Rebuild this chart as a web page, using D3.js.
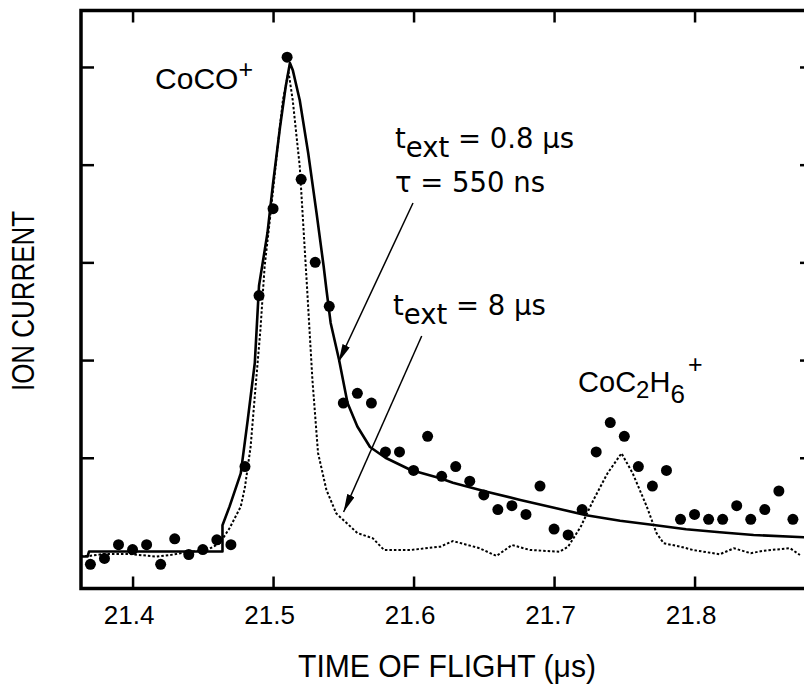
<!DOCTYPE html>
<html>
<head>
<meta charset="utf-8">
<script src="https://cdn.jsdelivr.net/npm/d3@7"></script>
<style>
    body { margin: 0; background: #fff; }
    svg { display: block; }
    .tick text { font-family: 'Liberation Sans', Arial, sans-serif; font-size: 26px; fill: #000; }
    .tick line { stroke: #000; stroke-width: 2.5; }
</style>
</head>
<body>
<div id="chart"></div>
<script>
// measured points, time of flight (us) vs ion current (arb. units)
var pointTimes = [21.37, 21.38, 21.39, 21.40, 21.41, 21.42, 21.43, 21.44, 21.45, 21.46,
    21.47, 21.48, 21.49, 21.50, 21.51, 21.52, 21.53, 21.54, 21.55, 21.56,
    21.57, 21.58, 21.59, 21.60, 21.61, 21.62, 21.63, 21.64, 21.65, 21.66,
    21.67, 21.68, 21.69, 21.70, 21.71, 21.72, 21.73, 21.74, 21.75, 21.76,
    21.77, 21.78, 21.79, 21.80, 21.81, 21.82, 21.83, 21.84, 21.85, 21.86, 21.87];
var pointCurrent = [-0.09, -0.03, 0.11, 0.06, 0.11, -0.09, 0.17, 0.01, 0.06, 0.16,
    0.11, 0.91, 2.66, 3.55, 5.10, 3.85, 3.00, 2.55, 1.56, 1.66,
    1.56, 1.06, 1.06, 0.87, 1.22, 0.81, 0.91, 0.76, 0.62, 0.47,
    0.51, 0.42, 0.71, 0.27, 0.21, 0.47, 1.06, 1.36, 1.22, 0.91,
    0.71, 0.87, 0.37, 0.42, 0.37, 0.37, 0.51, 0.37, 0.47, 0.66, 0.37];

// t_ext = 0.8 us, tau = 550 ns model
var fitCurve = [[21.363, -0.01], [21.368, -0.01], [21.369, 0.04], [21.464, 0.04], [21.464, 0.31],
    [21.469, 0.50], [21.477, 0.84], [21.482, 1.39], [21.487, 1.97], [21.490, 2.76],
    [21.496, 3.30], [21.500, 3.81], [21.505, 4.39], [21.509, 4.80], [21.512, 5.04],
    [21.514, 4.97], [21.519, 4.66], [21.525, 4.12], [21.531, 3.50], [21.536, 2.96],
    [21.538, 2.72], [21.541, 2.38], [21.547, 2.00], [21.553, 1.56], [21.560, 1.32],
    [21.569, 1.11], [21.580, 1.00], [21.598, 0.875], [21.619, 0.79], [21.628, 0.745],
    [21.652, 0.653], [21.676, 0.568], [21.700, 0.489], [21.723, 0.411], [21.747, 0.356],
    [21.771, 0.312], [21.794, 0.268], [21.818, 0.237], [21.842, 0.210], [21.878, 0.186]];

// t_ext = 8 us trace
var longCurve = [[21.363, -0.005], [21.369, -0.005], [21.379, 0.015], [21.398, 0.015], [21.417, -0.012],
    [21.427, 0.005], [21.441, 0.039], [21.453, 0.056], [21.462, 0.125], [21.469, 0.278],
    [21.477, 0.50], [21.480, 0.70], [21.484, 1.11], [21.487, 1.63], [21.491, 2.31],
    [21.494, 2.96], [21.498, 3.47], [21.503, 4.15], [21.507, 4.66], [21.511, 4.95],
    [21.514, 4.66], [21.519, 3.98], [21.524, 2.79], [21.528, 1.80], [21.532, 1.05],
    [21.538, 0.67], [21.545, 0.43], [21.560, 0.23], [21.571, 0.176], [21.579, 0.056],
    [21.598, 0.056], [21.619, 0.09], [21.628, 0.148], [21.647, 0.074], [21.659, -0.005],
    [21.670, 0.107], [21.683, 0.056], [21.704, 0.039], [21.710, 0.09], [21.719, 0.295],
    [21.728, 0.568], [21.738, 0.84], [21.748, 1.046], [21.756, 0.84], [21.766, 0.50],
    [21.773, 0.227], [21.778, 0.125], [21.790, 0.09], [21.799, 0.056], [21.818, 0.012],
    [21.828, 0.074], [21.840, 0.023], [21.849, 0.049], [21.868, 0.074], [21.875, 0.005]];

var xTicks = [21.4, 21.5, 21.6, 21.7, 21.8];
var yTicks = [1, 2, 3, 4, 5];

var width = 804, height = 684;
var plotLeft = 81, plotRight = 813, plotTop = 10.5, plotBottom = 588.5;

var svg = d3.select('#chart')
    .append('svg')
    .attr('width', width)
    .attr('height', height);

var x = d3.scaleLinear()
    .domain([21.3633, 21.8843])
    .range([plotLeft, plotRight]);

var y = d3.scaleLinear()
    .domain([-0.338, 5.578])
    .range([plotBottom, plotTop]);

var defs = svg.append('defs');

defs.append('clipPath')
    .attr('id', 'plot-clip')
    .append('rect')
    .attr('x', plotLeft)
    .attr('y', plotTop)
    .attr('width', plotRight - plotLeft)
    .attr('height', plotBottom - plotTop);

defs.append('marker')
    .attr('id', 'arrow')
    .attr('viewBox', '0 0 18 8')
    .attr('refX', 18)
    .attr('refY', 4)
    .attr('markerWidth', 18)
    .attr('markerHeight', 8)
    .attr('markerUnits', 'userSpaceOnUse')
    .attr('orient', 'auto')
    .append('path')
    .attr('d', 'M0,0L18,4L0,8Z')
    .attr('fill', '#000');

// axes, ticks only
svg.append('g')
    .attr('transform', 'translate(0,' + plotBottom + ')')
    .call(d3.axisBottom(x).tickValues(xTicks).tickSize(-12).tickPadding(17)
        .tickFormat(d3.format('.1f')))
    .selectAll('text')
    .attr('dx', -4);

svg.append('g')
    .attr('transform', 'translate(0,' + plotTop + ')')
    .call(d3.axisTop(x).tickValues(xTicks).tickSize(-12).tickFormat(''));

svg.append('g')
    .attr('transform', 'translate(' + plotLeft + ',0)')
    .call(d3.axisLeft(y).tickValues(yTicks).tickSize(-13).tickFormat(''));

svg.append('g')
    .attr('transform', 'translate(' + plotRight + ',0)')
    .call(d3.axisRight(y).tickValues(yTicks).tickSize(-13).tickFormat(''));

svg.selectAll('.domain').remove();

svg.append('rect')
    .attr('x', plotLeft)
    .attr('y', plotTop)
    .attr('width', plotRight - plotLeft)
    .attr('height', plotBottom - plotTop)
    .attr('fill', 'none')
    .attr('stroke', '#000')
    .attr('stroke-width', 3.5);

var plot = svg.append('g')
    .attr('clip-path', 'url(#plot-clip)');

var line = d3.line()
    .x(function(d) { return x(d[0]); })
    .y(function(d) { return y(d[1]); });

plot.append('path')
    .datum(longCurve)
    .attr('d', line)
    .attr('fill', 'none')
    .attr('stroke', '#000')
    .attr('stroke-width', 2)
    .attr('stroke-dasharray', '2.5,2');

plot.append('path')
    .datum(fitCurve)
    .attr('d', line)
    .attr('fill', 'none')
    .attr('stroke', '#000')
    .attr('stroke-width', 2.6)
    .attr('stroke-linejoin', 'round');

plot.selectAll('.point')
    .data(pointTimes)
    .enter()
    .append('circle')
    .classed('point', true)
    .attr('cx', function(d) { return x(d); })
    .attr('cy', function(d, i) { return y(pointCurrent[i]); })
    .attr('r', 5.5)
    .attr('fill', '#000');

// annotations
var arrows = [
    { from: [21.5996, 3.608], to: [21.5466, 1.98] },
    { from: [21.6058, 2.247], to: [21.5502, 0.445] }
];

svg.selectAll('.arrow')
    .data(arrows)
    .enter()
    .append('line')
    .classed('arrow', true)
    .attr('x1', function(d) { return x(d.from[0]); })
    .attr('y1', function(d) { return y(d.from[1]); })
    .attr('x2', function(d) { return x(d.to[0]); })
    .attr('y2', function(d) { return y(d.to[1]); })
    .attr('stroke', '#000')
    .attr('stroke-width', 1.5)
    .attr('marker-end', 'url(#arrow)');

var helv = "'Liberation Sans', Arial, sans-serif";
var dejavu = "'DejaVu Sans', sans-serif";

var coco = svg.append('text')
    .attr('x', x(21.416))
    .attr('y', y(4.775))
    .attr('font-family', helv)
    .attr('font-size', 30);
coco.append('tspan').text('CoCO');
coco.append('tspan').attr('dy', -11).attr('font-size', 25).text('+');

function extLabel(tx, ty, rest) {
    var t = svg.append('text')
        .attr('x', x(tx))
        .attr('y', y(ty))
        .attr('font-family', dejavu)
        .attr('font-size', 27.5);
    t.append('tspan').text('t');
    t.append('tspan').attr('dy', 9).text('ext');
    t.append('tspan').attr('dy', -9).text(rest);
}

extLabel(21.5868, 4.171, ' = 0.8 \u03bcs');

svg.append('text')
    .attr('x', x(21.5868))
    .attr('y', y(3.721))
    .attr('font-family', dejavu)
    .attr('font-size', 27.5)
    .text('\u03c4 = 550 ns');

extLabel(21.5854, 2.462, ' = 8 \u03bcs');

var coc2 = svg.append('text')
    .attr('x', x(21.7171))
    .attr('y', y(1.673))
    .attr('font-family', helv)
    .attr('font-size', 29);
coc2.append('tspan').text('CoC');
coc2.append('tspan').attr('dy', 6).attr('font-size', 24).text('2');
coc2.append('tspan').attr('dy', -6).text('H');
coc2.append('tspan').attr('dy', 11).attr('font-size', 26).text('6');
coc2.append('tspan').attr('dx', 3).attr('dy', -30).attr('font-size', 25).text('+');

// axis titles
svg.append('text')
    .attr('x', 447)
    .attr('y', 677)
    .attr('text-anchor', 'middle')
    .attr('font-family', helv)
    .attr('font-size', 32)
    .attr('textLength', 298)
    .attr('lengthAdjust', 'spacingAndGlyphs')
    .text('TIME OF FLIGHT (\u03bcs)');

svg.append('text')
    .attr('transform', 'translate(34,301) rotate(-90)')
    .attr('text-anchor', 'middle')
    .attr('font-family', helv)
    .attr('font-size', 31)
    .attr('textLength', 180)
    .attr('lengthAdjust', 'spacingAndGlyphs')
    .text('ION CURRENT');
</script>
</body>
</html>
